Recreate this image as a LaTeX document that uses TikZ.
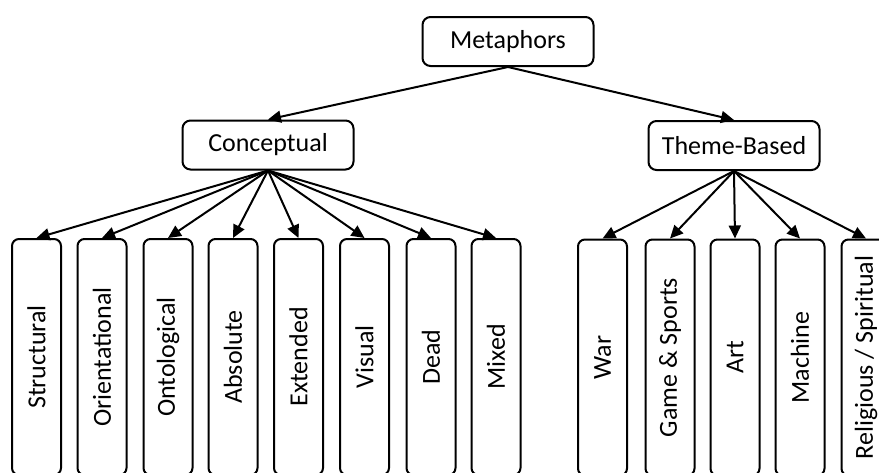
\documentclass[tikz,border=0pt]{standalone}
\usepackage{fontspec}
\setmainfont{Carlito}
\usetikzlibrary{arrows.meta}
\begin{document}
\begin{tikzpicture}[x=1pt,y=-1pt,
  hbox/.style={draw, line width=2pt, rounded corners=8pt, minimum width=171pt, minimum height=49pt, inner sep=0pt, font=\fontsize{26}{30}\selectfont},
  vbox/.style={draw, line width=2pt, rounded corners=7pt, minimum width=49pt, minimum height=236pt, inner sep=0pt},
  vtext/.style={rotate=90, inner sep=0pt, font=\fontsize{26}{30}\selectfont},
  arr/.style={-{Triangle[length=13pt,width=12pt]}, line width=2pt}]
\useasboundingbox (0,0) rectangle (879,472);
\clip (0,0) rectangle (879,472);
\node[hbox] (m) at (508,41.5) {Metaphors};
\node[hbox] (c) at (268,145) {Conceptual};
\node[hbox] (t) at (734,145.5) {Theme-Based};
\draw[arr] (m.south) -- (c.north);
\draw[arr] (m.south) -- (t.north);
\foreach \n/\x/\lab in {s1/36.5/Structural, s2/102/Orientational, s3/168/Ontological, s4/233/Absolute, s5/298.5/Extended, s6/364.5/Visual, s7/431/Dead, s8/496/Mixed}{
  \node[vbox] (\n) at (\x,357) {};
  \node[vtext] (\n t) at (\n) {\lab};
  \draw[arr] (c.south) -- (\n.north);
}
\foreach \n/\x/\lab in {u1/602.5/War, u2/670/{Game \& Sports}, u3/735/Art, u4/800/Machine, u5/866/{Religious / Spiritual}}{
  \node[vbox] (\n) at (\x,357.5) {};
  \node[vtext] (\n t) at (\n) {\lab};
  \draw[arr] (t.south) -- (\n.north);
}
\end{tikzpicture}
\end{document}
